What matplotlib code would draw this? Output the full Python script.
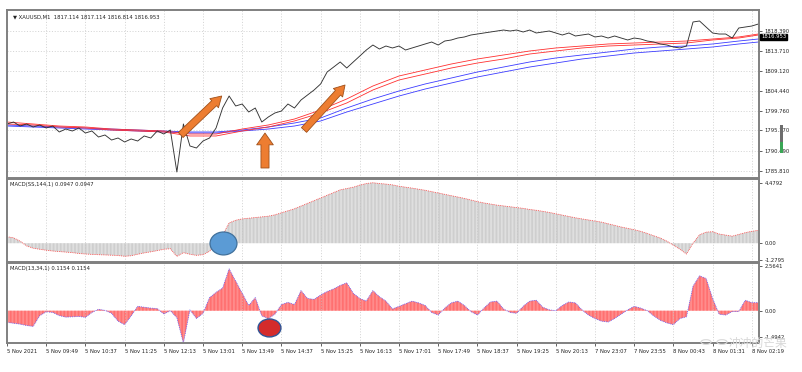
import numpy as np
import matplotlib
matplotlib.use("Agg")
import matplotlib.pyplot as plt
from matplotlib.patches import Ellipse, Rectangle, Circle

# ---------------- data ----------------
step_bars = 8  # one sample every 8 one-minute bars

price = [1796.68, 1797.14, 1796.21, 1796.68, 1795.98, 1796.45, 1795.75, 1796.21, 1794.82, 1795.51,
         1795.05, 1795.75, 1794.58, 1795.05, 1793.65, 1794.12, 1792.95, 1793.42, 1792.49, 1793.19,
         1792.72, 1793.89, 1793.42, 1795.05, 1794.35, 1795.28, 1785.51, 1796.68, 1791.56, 1791.09,
         1792.72, 1793.42, 1795.75, 1800.40, 1803.19, 1800.87, 1801.33, 1799.47, 1800.40, 1797.14,
         1798.31, 1799.24, 1799.70, 1801.33, 1800.40, 1802.26, 1803.43, 1804.59, 1805.99, 1808.78,
         1809.94, 1811.11, 1809.71, 1811.11, 1812.50, 1813.90, 1815.06, 1814.13, 1814.83, 1814.37,
         1814.83, 1813.90, 1814.37, 1814.83, 1815.30, 1815.76, 1815.06, 1815.99, 1816.23, 1816.69,
         1816.93, 1817.39, 1817.62, 1817.86, 1818.09, 1818.32, 1818.55, 1818.32, 1818.55, 1818.09,
         1818.55, 1817.86, 1818.09, 1818.32, 1817.86, 1817.39, 1817.86, 1817.16, 1817.39, 1817.62,
         1816.93, 1817.16, 1816.69, 1817.16, 1816.69, 1816.23, 1816.69, 1816.46, 1815.99, 1815.76,
         1815.30, 1815.06, 1814.60, 1814.37, 1814.83, 1820.42, 1820.65, 1819.25, 1817.86, 1817.62,
         1817.62, 1816.69, 1819.02, 1819.25, 1819.48, 1819.95]

ma_bars = [0, 32, 64, 96, 128, 160, 192, 224, 256, 288, 320, 352, 384, 416, 448,
           480, 512, 544, 576, 608, 640, 672, 704, 736, 768, 800, 832, 864, 896, 920]
red_ma_a = [1797.14, 1796.68, 1796.21, 1795.98, 1795.51, 1795.28, 1795.05, 1794.35, 1794.35, 1795.51,
            1796.45, 1797.84, 1799.94, 1802.50, 1805.52, 1807.85, 1809.25, 1810.64, 1811.81, 1812.74,
            1813.67, 1814.37, 1814.83, 1815.30, 1815.53, 1815.76, 1815.99, 1816.46, 1816.93, 1817.62]
red_ma_b = [1796.68, 1796.45, 1795.98, 1795.75, 1795.28, 1795.05, 1794.82, 1793.89, 1793.89, 1795.05,
            1795.98, 1797.38, 1799.24, 1801.57, 1804.59, 1806.92, 1808.31, 1809.71, 1810.87, 1811.81,
            1812.97, 1813.67, 1814.37, 1814.83, 1815.06, 1815.30, 1815.53, 1816.23, 1816.69, 1817.39]
blue_ma_a = [1796.45, 1796.21, 1795.98, 1795.75, 1795.51, 1795.28, 1795.05, 1794.82, 1794.82, 1795.28,
             1795.98, 1796.91, 1798.07, 1800.40, 1802.50, 1804.36, 1805.99, 1807.38, 1808.78, 1809.94,
             1811.11, 1812.04, 1812.74, 1813.43, 1814.13, 1814.60, 1814.83, 1815.30, 1815.99, 1816.46]
blue_ma_b = [1796.21, 1795.98, 1795.75, 1795.51, 1795.28, 1795.05, 1794.82, 1794.58, 1794.58, 1795.05,
             1795.51, 1796.21, 1797.38, 1799.47, 1801.33, 1803.19, 1804.82, 1806.22, 1807.62, 1808.78,
             1809.94, 1810.87, 1811.81, 1812.50, 1813.20, 1813.67, 1814.13, 1814.60, 1815.30, 1815.76]

macd_slow = [0.48, 0.40, 0.15, -0.20, -0.37, -0.45, -0.52, -0.58, -0.62, -0.66,
             -0.70, -0.76, -0.80, -0.83, -0.85, -0.87, -0.89, -0.91, -0.97, -0.93,
             -0.82, -0.72, -0.64, -0.55, -0.45, -0.41, -0.98, -0.70, -0.82, -0.90,
             -0.85, -0.60, -0.10, 0.60, 1.50, 1.70, 1.80, 1.85, 1.90, 1.95,
             2.00, 2.10, 2.25, 2.40, 2.55, 2.75, 2.95, 3.15, 3.35, 3.55,
             3.75, 3.95, 4.05, 4.15, 4.30, 4.42, 4.48, 4.42, 4.38, 4.32,
             4.22, 4.15, 4.08, 4.00, 3.92, 3.82, 3.72, 3.62, 3.52, 3.42,
             3.32, 3.20, 3.08, 2.98, 2.90, 2.82, 2.76, 2.70, 2.64, 2.58,
             2.50, 2.44, 2.36, 2.28, 2.18, 2.08, 1.98, 1.88, 1.80, 1.72,
             1.64, 1.56, 1.44, 1.32, 1.20, 1.10, 1.00, 0.88, 0.72, 0.55,
             0.38, 0.15, -0.15, -0.45, -0.80, 0.00, 0.62, 0.82, 0.85, 0.68,
             0.60, 0.52, 0.65, 0.78, 0.88, 0.95]

macd_fast = [-0.67, -0.72, -0.77, -0.85, -0.90, -0.29, -0.06, -0.10, -0.28, -0.37,
             -0.35, -0.33, -0.38, -0.10, 0.08, 0.02, -0.15, -0.60, -0.80, -0.30,
             0.25, 0.20, 0.15, 0.12, -0.19, 0.00, -0.40, -1.85, 0.05, -0.45,
             -0.15, 0.75, 1.05, 1.30, 2.40, 1.70, 1.00, 0.30, 0.75, -0.30,
             -0.45, -0.20, 0.35, 0.48, 0.35, 1.15, 0.70, 0.65, 0.90, 1.10,
             1.25, 1.45, 1.60, 1.00, 0.70, 0.55, 1.15, 0.80, 0.55, 0.10,
             0.25, 0.40, 0.55, 0.45, 0.30, -0.10, -0.25, 0.15, 0.45, 0.55,
             0.30, -0.05, -0.25, 0.15, 0.50, 0.55, 0.10, -0.10, -0.15, 0.25,
             0.55, 0.60, 0.20, 0.05, 0.00, 0.30, 0.50, 0.45, 0.05, -0.25,
             -0.45, -0.60, -0.65, -0.45, -0.20, 0.05, 0.25, 0.15, 0.00, -0.30,
             -0.55, -0.70, -0.80, -0.45, -0.35, 1.40, 2.00, 1.85, 0.70, -0.20,
             -0.25, -0.05, -0.05, 0.60, 0.46, 0.46]

time_ticks = [0, 48, 96, 144, 192, 240, 288, 336, 384, 432, 480, 528, 576, 624, 672,
              720, 768, 816, 864, 912]
time_labels = ["5 Nov 2021", "5 Nov 09:49", "5 Nov 10:37", "5 Nov 11:25", "5 Nov 12:13",
               "5 Nov 13:01", "5 Nov 13:49", "5 Nov 14:37", "5 Nov 15:25", "5 Nov 16:13",
               "5 Nov 17:01", "5 Nov 17:49", "5 Nov 18:37", "5 Nov 19:25", "5 Nov 20:13",
               "7 Nov 23:07", "7 Nov 23:55", "8 Nov 00:43", "8 Nov 01:31", "8 Nov 02:19"]
price_ticks = [1818.390, 1813.710, 1809.120, 1804.440, 1799.760, 1795.170, 1790.490, 1785.810]
last_price = 1816.953
slow_ticks = [4.4792, 0.0, -1.2795]
slow_labels = ["4.4792", "0.00", "-1.2795"]
fast_ticks = [2.5641, 0.0, -1.4942]
fast_labels = ["2.5641", "0.00", "-1.4942"]

# ---------------- figure ----------------
plt.rcParams['font.family'] = ['DejaVu Sans']
plt.rcParams['hatch.linewidth'] = 0.5

W, H = 803, 372
fig = plt.figure(figsize=(W / 100, H / 100), dpi=100)
fig.patch.set_facecolor('white')


def rect(x0, y0, x1, y1):
    return [x0 / W, 1 - y1 / H, (x1 - x0) / W, (y1 - y0) / H]


ax0 = fig.add_axes(rect(7, 10, 759, 178))
ax1 = fig.add_axes(rect(7, 179, 759, 262))
ax2 = fig.add_axes(rect(7, 263, 759, 343))

FS = 3.8
grid_kw = dict(color='#c4c4c4', lw=0.5, linestyle=(0, (1.5, 2.5)))
XMAX = 920.8

x = np.arange(len(price)) * step_bars

for ax in (ax0, ax1, ax2):
    ax.set_xlim(0, XMAX)
    ax.set_xticks(time_ticks)
    ax.grid(True, axis='x', **grid_kw)
    ax.yaxis.tick_right()
    ax.tick_params(axis='y', labelsize=FS, length=2.5, width=0.5, pad=1.5, colors='#222222')
    for s in ax.spines.values():
        s.set_color('#808080')
        s.set_linewidth(1.4)
    ax.set_facecolor('white')

for ax in (ax0, ax1):
    ax.tick_params(axis='x', length=0, labelbottom=False)

# ---- main price panel ----
ax0.set_ylim(1784.11, 1823.21)
ax0.set_yticks(price_ticks)
ax0.set_yticklabels([f"{v:.3f}" for v in price_ticks])
ax0.grid(True, axis='y', **grid_kw)
ax0.plot(ma_bars, blue_ma_a, color='#3c3cff', lw=0.6)
ax0.plot(ma_bars, blue_ma_b, color='#3c3cff', lw=0.6)
ax0.plot(ma_bars, red_ma_a, color='#ff3030', lw=0.6)
ax0.plot(ma_bars, red_ma_b, color='#ff3030', lw=0.6)
ax0.plot(x, price, color='#333333', lw=0.65)
ax0.text(0.008, 0.975, "\u25bc XAUUSD,M1  1817.114 1817.114 1816.814 1816.953",
         transform=ax0.transAxes, fontsize=FS, va='top', ha='left', color='#222222')
ax0.text(1.003, last_price, f"{last_price:.3f}", transform=ax0.get_yaxis_transform(),
         fontsize=FS, color='white', va='center', ha='left',
         bbox=dict(boxstyle='square,pad=0.15', fc='black', ec='black'))

arrow_fc, arrow_ec = '#ed7d31', '#a0501a'
ax0.annotate('', xy=(262.9, 1803.19), xytext=(212.7, 1794.12),
             arrowprops=dict(arrowstyle='simple,head_length=0.75,head_width=0.9,tail_width=0.5',
                             fc=arrow_fc, ec=arrow_ec, lw=0.6, shrinkA=0, shrinkB=0,
                             mutation_scale=10))
ax0.annotate('', xy=(315.9, 1794.58), xytext=(315.9, 1786.44),
             arrowprops=dict(arrowstyle='simple,head_length=0.85,head_width=1.2,tail_width=0.58',
                             fc=arrow_fc, ec=arrow_ec, lw=0.6, shrinkA=0, shrinkB=0,
                             mutation_scale=10))
ax0.annotate('', xy=(413.9, 1805.75), xytext=(363.7, 1795.28),
             arrowprops=dict(arrowstyle='simple,head_length=0.75,head_width=0.9,tail_width=0.5',
                             fc=arrow_fc, ec=arrow_ec, lw=0.6, shrinkA=0, shrinkB=0,
                             mutation_scale=10))

# ---- MACD(SS,144,1) ----
ax1.set_ylim(-1.393, 4.756)
ax1.set_yticks(slow_ticks)
ax1.set_yticklabels(slow_labels)
ax1.fill_between(x, 0, macd_slow, facecolor='#ececec', edgecolor='#c2c2c2',
                 hatch='|' * 12, lw=0)
ax1.plot(x, macd_slow, color='#ff4040', lw=0.6, linestyle=(0, (1, 1.2)))
ax1.text(0.004, 0.96, "MACD(SS,144,1) 0.0947 0.0947", transform=ax1.transAxes,
         fontsize=FS, va='top', ha='left', color='#222222')
ax1.add_patch(Ellipse((265.1, -0.02), 33, 1.70, fc='#5b9bd5', ec='#41719c', lw=0.9, zorder=5))

# ---- MACD(13,34,1) ----
ax2.set_ylim(-1.853, 2.737)
ax2.set_yticks(fast_ticks)
ax2.set_yticklabels(fast_labels)
ax2.fill_between(x, 0, macd_fast, facecolor='#ffa3a3', edgecolor='#ff5a5a',
                 hatch='|' * 12, lw=0)
ax2.plot(x, macd_fast, color='#5a5aff', lw=0.6, linestyle=(0, (1, 1.2)))
ax2.text(0.004, 0.96, "MACD(13,34,1) 0.1154 0.1154", transform=ax2.transAxes,
         fontsize=FS, va='top', ha='left', color='#222222')
ax2.add_patch(Ellipse((321.4, -0.99), 28, 1.03, fc='#d42b2b', ec='#2f5597', lw=1.0, zorder=5))

ax2.set_xticklabels(time_labels)
ax2.tick_params(axis='x', labelsize=FS, length=2.5, width=0.5, pad=1.5, colors='#222222')
for lbl in ax2.get_xticklabels():
    lbl.set_ha('left')

# ---- UI bits ----
fig.patches.append(Rectangle((780 / W, 1 - 142 / H), 3 / W, 17 / H, transform=fig.transFigure,
                             fc='#6d6d6d', ec='none'))
fig.patches.append(Rectangle((780 / W, 1 - 153 / H), 3 / W, 11 / H, transform=fig.transFigure,
                             fc='#3aa655', ec='none'))

# watermark
fig.patches.append(Circle((706 / W, 1 - 342 / H), 5 / W, transform=fig.transFigure,
                          fc='none', ec='#d8d8d8', lw=0.8))
fig.patches.append(Circle((722 / W, 1 - 342 / H), 5 / W, transform=fig.transFigure,
                          fc='none', ec='#d8d8d8', lw=0.8))
fig.text(729 / W, 1 - 343 / H, "冲冲的芒果", family=['Noto Sans CJK SC', 'DejaVu Sans'],
         fontsize=8.5, color='#d8d8d8', va='center', ha='left', zorder=0)

fig.savefig("out.png", dpi=100)
